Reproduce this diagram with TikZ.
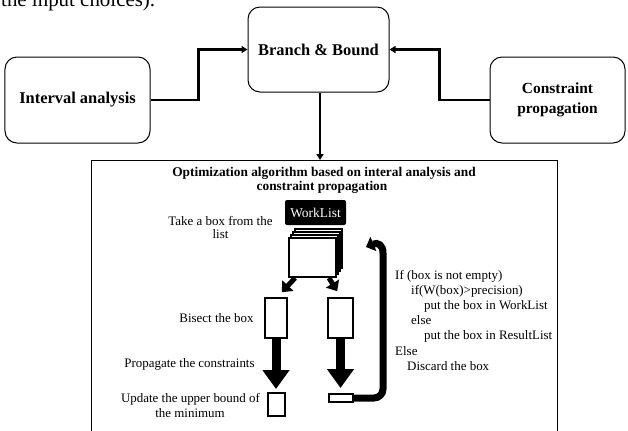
\documentclass[tikz,border=0pt]{standalone}
\usepackage{fontspec}
\setmainfont{Liberation Serif}
\usetikzlibrary{arrows.meta,calc}
\begin{document}
\begin{tikzpicture}[x=1bp,y=-1bp,
  rbox/.style={draw, line width=1bp, rounded corners=12bp, align=center, inner sep=0pt},
  conn/.style={line width=2.6bp, -{Triangle[length=6bp,width=7bp]}},
  diag/.style={line width=5bp, -{Triangle[length=9bp,width=15bp]}},
  bigarrow/.style={line width=9bp, -{Triangle[length=19bp,width=26bp]}},
  plainbox/.style={draw, fill=white, inner sep=0pt},
  lbl/.style={anchor=base, inner sep=0pt, font=\fontsize{13}{15}\selectfont},
  codeline/.style={anchor=base west, inner sep=0pt, font=\fontsize{13}{15}\selectfont},
  ttl/.style={anchor=base, inner sep=0pt, font=\bfseries\fontsize{13.4}{15}\selectfont}]
\useasboundingbox (0,0) rectangle (628,430);
\begin{scope}
\clip (0,0) rectangle (628,430);
% cut-off text at top
\node[anchor=base west, inner sep=0pt, font=\fontsize{21}{24}\selectfont] (toptext) at (1,6) {the input choices).};

% top boxes
\node[rbox, minimum width=141bp, minimum height=85bp, font=\bfseries\fontsize{16.5}{19}\selectfont] (bb) at (318.5,49.5) {Branch \& Bound};
\node[rbox, minimum width=145bp, minimum height=86bp, font=\bfseries\fontsize{16.5}{19}\selectfont] (ia) at (77.5,100) {Interval analysis};
\node[rbox, minimum width=135bp, minimum height=86bp, font=\bfseries\fontsize{15.5}{20}\selectfont] (cp) at (557.5,100) {Constraint\\propagation};

% main box
\node[draw, line width=1bp, minimum width=466bp, minimum height=290bp, anchor=north west, inner sep=0pt] (main) at (91,160) {};

% connectors
\draw[conn] (ia.east) -- ++(48,0) |- (bb.west);
\draw[conn] (cp.west) -- ++(-50,0) |- (bb.east);
\draw[conn] ([xshift=1.5bp]bb.south) -- ([xshift=1.5bp]bb.south |- main.north);

% title
\node[ttl] (title1) at (324,176) {Optimization algorithm based on interal analysis and};
\node[ttl] (title2) at (322,190) {constraint propagation};

% WorkList
\node[fill=black, rounded corners=2bp, minimum width=61bp, minimum height=25bp, text=white, font=\fontsize{13.5}{16}\selectfont, inner sep=0pt] (wl) at (315.5,212.5) {WorkList};

% stack of boxes
\foreach \i in {3,2,1} {
  \draw[fill=white, line width=1.2bp] (289+2*\i,238-3*\i) rectangle ++(47,39);
}
\node[plainbox, line width=2bp, minimum width=47bp, minimum height=39bp] (fs) at (312.5,257.5) {};

% bisected boxes
\node[plainbox, line width=1.6bp, minimum width=22bp, minimum height=40bp] (bl) at (276,318) {};
\node[plainbox, line width=1.6bp, minimum width=25bp, minimum height=40bp] (br) at (340.5,318) {};

% result boxes
\node[plainbox, line width=2bp, minimum width=17bp, minimum height=23bp] (lb) at (276.5,404.5) {};
\node[plainbox, line width=2bp, minimum width=24bp, minimum height=8bp] (rb) at (341,398) {};

% diagonal arrows
\draw[diag] ($(fs.south west)+(7,0)$) -- ($(bl.north east)+(-6,-5)$);
\draw[diag] ($(fs.south east)+(-8,0)$) -- ($(br.north west)+(10,-6)$);

% vertical thick arrows
\draw[bigarrow, shorten >=3bp] (bl.south) -- (bl.south |- lb.north);
\draw[bigarrow, shorten >=5bp] (br.south) -- (br.south |- rb.north);

% return arrow
\draw[line width=7bp, -{Triangle[length=8bp,width=15bp]}, rounded corners=9bp]
  (rb.east) -- (383,398) -- (383,262) .. controls (383,245) and (378,242) .. (366,247);

% labels
\node[lbl] (l1a) at (220.5,225) {Take a box from the};
\node[lbl] (l1b) at (220.5,238) {list};
\node[lbl] (l2) at (216.5,322) {Bisect the box};
\node[lbl] (l3) at (189.5,367) {Propagate the constraints};
\node[lbl] (l4a) at (190.5,402) {Update the upper bound of};
\node[lbl] (l4b) at (190,417) {the minimum};

% right code text
\node[codeline] (c1) at (395,279) {If (box is not empty)};
\node[codeline] (c2) at (411,294.2) {if(W(box)>precision)};
\node[codeline] (c3) at (424,309.4) {put the box in WorkList};
\node[codeline] (c4) at (411,324.6) {else};
\node[codeline] (c5) at (424,339.8) {put the box in ResultList};
\node[codeline] (c6) at (395,355) {Else};
\node[codeline] (c7) at (407,370.2) {Discard the box};
\end{scope}
\end{tikzpicture}
\end{document}
